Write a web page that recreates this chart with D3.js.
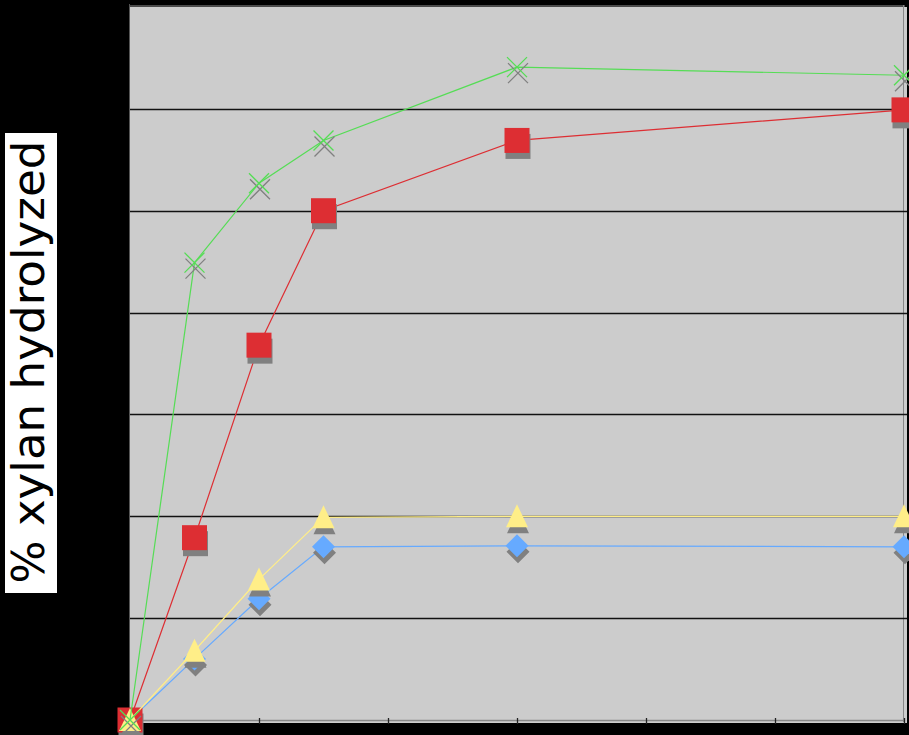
<!DOCTYPE html>
<html>
<head>
<meta charset="utf-8">
<script src="https://cdn.jsdelivr.net/npm/d3@7"></script>
<style>
  html, body { margin: 0; padding: 0; background: #000; }
  svg { display: block; }
</style>
</head>
<body>
<svg id="chart" width="909" height="735"></svg>
<script>
// ---- data ----
const timePoints = [0, 1, 2, 3, 6, 12];
const blueSeries = [0, 6.0, 11.9, 17.0, 17.1, 17.0];
const redSeries = [0, 17.9, 36.8, 50.0, 56.9, 59.9];
const yellowSeries = [0, 6.8, 13.8, 19.9, 20.0, 20.0];
const greenSeries = [0, 44.9, 52.7, 56.9, 64.1, 63.3];
const xTicks = [0, 2, 4, 6, 8, 10, 12];
const yGridTicks = [10, 20, 30, 40, 50, 60];
const yAxisLabel = "% xylan hydrolyzed";

const series = [
  { values: blueSeries, color: "#66aaff", marker: "diamond" },
  { values: redSeries, color: "#dd2e33", marker: "square" },
  { values: yellowSeries, color: "#ffee88", marker: "triangle" },
  { values: greenSeries, color: "#55dd55", marker: "x" }
];

const svg = d3.select("#chart");
const W = 909, H = 735;
const plot = { left: 130, right: 904, top: 7, bottom: 720 };

svg.append("rect").attr("width", W).attr("height", H).attr("fill", "#000");

const x = d3.scaleLinear().domain([0, 12]).range([plot.left, plot.right]);
const y = d3.scaleLinear().domain([0, 70]).range([plot.bottom, plot.top]);

// plot area
svg.append("rect")
  .attr("x", plot.left).attr("y", plot.top)
  .attr("width", 907 - plot.left).attr("height", 723 - plot.top)
  .attr("fill", "#cccccc");

// top border
svg.append("line")
  .attr("x1", plot.left).attr("x2", 905)
  .attr("y1", 6).attr("y2", 6)
  .attr("stroke", "#4a4a4a").attr("stroke-width", 2);

// left border
svg.append("line")
  .attr("x1", plot.left - 0.5).attr("x2", plot.left - 0.5)
  .attr("y1", 4).attr("y2", 722)
  .attr("stroke", "#555").attr("stroke-width", 1);

// right border line
svg.append("line")
  .attr("x1", plot.right - 0.5).attr("x2", plot.right - 0.5)
  .attr("y1", 5).attr("y2", 722)
  .attr("stroke", "#888").attr("stroke-width", 1);

// gridlines
svg.append("g").selectAll("line").data(yGridTicks).join("line")
  .attr("x1", plot.left).attr("x2", 907)
  .attr("y1", d => Math.round(y(d)) + 0.5).attr("y2", d => Math.round(y(d)) + 0.5)
  .attr("stroke", "#111").attr("stroke-width", 1.3);

// x axis
const xAxis = d3.axisBottom(x).tickValues(xTicks).tickSize(0).tickFormat("");
const gx = svg.append("g").attr("transform", `translate(0,${plot.bottom})`).call(xAxis);
gx.select(".domain").attr("stroke", "#888").attr("stroke-width", 1.5);
gx.selectAll(".tick line").remove();
gx.selectAll(".tick").append("line")
  .attr("y1", -2).attr("y2", 4)
  .attr("stroke", "#222").attr("stroke-width", 1.3);

// marker shapes
function markerPath(type) {
  switch (type) {
    case "square": return "M-12.5,-12.5H12.5V12.5H-12.5Z";
    case "diamond": return "M0,-11.5L11.5,0L0,11.5L-11.5,0Z";
    case "triangle": return "M0,-12L11,11L-11,11Z";
    case "x": return "M-10,-10L10,10M-10,10L10,-10";
  }
}

const line = d3.line().x((d, i) => x(timePoints[i])).y(d => y(d));

series.forEach(s => {
  const g = svg.append("g");
  g.append("path").datum(s.values)
    .attr("d", line)
    .attr("fill", "none")
    .attr("stroke", s.color)
    .attr("stroke-width", 1.2);

  const isX = s.marker === "x";
  // shadow
  g.selectAll(".shadow").data(s.values).join("path")
    .attr("class", "shadow")
    .attr("transform", (d, i) => `translate(${x(timePoints[i]) + 1},${y(d) + 6})`)
    .attr("d", markerPath(s.marker))
    .attr("fill", isX ? "none" : "#808080")
    .attr("stroke", isX ? "#808080" : "none")
    .attr("stroke-width", isX ? 1.3 : 0);
  // marker
  g.selectAll(".mk").data(s.values).join("path")
    .attr("class", "mk")
    .attr("transform", (d, i) => `translate(${x(timePoints[i])},${y(d)})`)
    .attr("d", markerPath(s.marker))
    .attr("fill", isX ? "none" : s.color)
    .attr("stroke", isX ? s.color : "none")
    .attr("stroke-width", isX ? 1.3 : 0);
});

// y-axis label with white box
const labelG = svg.append("g");
const boxRect = labelG.append("rect").attr("fill", "#fff");
const label = labelG.append("text")
  .attr("font-family", "'DejaVu Sans', Verdana, sans-serif")
  .attr("font-size", 40)
  .attr("fill", "#000")
  .attr("text-anchor", "middle")
  .attr("transform", "translate(44,362) rotate(-90)")
  .text(yAxisLabel);
const len = label.node().getComputedTextLength();
const fs = 40 * 443 / len;
label.attr("font-size", fs);
boxRect.attr("x", 5).attr("y", 133).attr("width", 52).attr("height", 460);
</script>
</body>
</html>
